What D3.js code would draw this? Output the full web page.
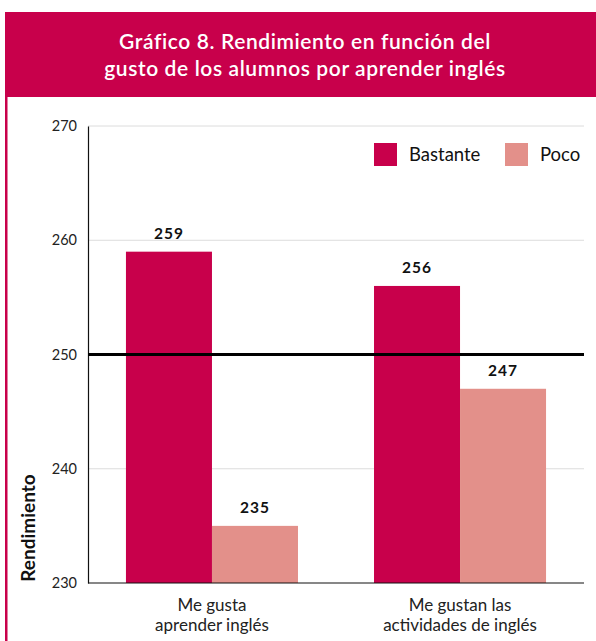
<!DOCTYPE html>
<html>
<head>
<meta charset="utf-8">
<script src="https://cdn.jsdelivr.net/npm/d3@7"></script>
<style>
  body { margin: 0; background: #fff; }
  svg { display: block; font-family: Lato, "Open Sans", sans-serif; }
</style>
</head>
<body>
<div id="chart"></div>
<script>
'use strict';

// data
var categories = ['Me gusta|aprender inglés', 'Me gustan las|actividades de inglés'];
var seriesNames = ['Bastante', 'Poco'];
var bastante = [259, 256];
var poco = [235, 247];
var yTicks = [230, 240, 250, 260, 270];
var refValue = 250;

var colors = { Bastante: '#C8004B', Poco: '#E3908A' };
var W = 596, H = 641;

var svg = d3.select('#chart').append('svg')
  .attr('width', W).attr('height', H);

// header band + left frame line
svg.append('rect').attr('x', 5).attr('y', 12).attr('width', W - 5).attr('height', 85)
  .attr('fill', '#C8004B');
svg.append('rect').attr('x', 5).attr('y', 12).attr('width', 2.5).attr('height', H - 12)
  .attr('fill', '#C8004B');

svg.append('text').attr('x', 305).attr('y', 49).attr('text-anchor', 'middle')
  .attr('fill', '#fff').style('font-size', '21px').style('font-weight', 600)
  .style('letter-spacing', '0.6px')
  .text('Gráfico 8. Rendimiento en función del');
svg.append('text').attr('x', 305).attr('y', 76).attr('text-anchor', 'middle')
  .attr('fill', '#fff').style('font-size', '21px').style('font-weight', 600)
  .style('letter-spacing', '0.6px')
  .text('gusto de los alumnos por aprender inglés');

var margin = { left: 88, right: 12, top: 126, bottom: 58 };
var x0 = d3.scaleBand().domain(categories)
  .range([margin.left, W - margin.right])
  .paddingInner(0.3065).paddingOuter(0.153);
var x1 = d3.scaleBand().domain(seriesNames).range([0, x0.bandwidth()]);
var y = d3.scaleLinear().domain([230, 270]).range([H - margin.bottom, margin.top]);

// gridlines
svg.append('g').selectAll('line').data(yTicks.filter(function(d){ return d !== 230; }))
  .enter().append('line')
  .attr('x1', margin.left).attr('x2', W - margin.right)
  .attr('y1', function(d){ return y(d); }).attr('y2', function(d){ return y(d); })
  .attr('stroke', '#dcdcdc').attr('stroke-width', 1);

// y axis
var yAxis = svg.append('g').attr('transform', 'translate(' + margin.left + ',0)')
  .call(d3.axisLeft(y).tickValues(yTicks).tickSize(0).tickPadding(11));
yAxis.select('.domain').attr('stroke', '#111').attr('stroke-width', 1.2);
yAxis.selectAll('text').attr('fill', '#222')
  .style('font-family', 'Lato, sans-serif').style('font-size', '14.5px');

// bars
var rows = categories.map(function(c, i){
  return { cat: c, values: [
    { key: 'Bastante', value: bastante[i] },
    { key: 'Poco', value: poco[i] }
  ] };
});

var groups = svg.append('g').selectAll('g').data(rows).enter().append('g')
  .attr('transform', function(d){ return 'translate(' + x0(d.cat) + ',0)'; });

groups.selectAll('rect').data(function(d){ return d.values; }).enter().append('rect')
  .attr('x', function(d){ return x1(d.key); })
  .attr('width', x1.bandwidth())
  .attr('y', function(d){ return y(d.value); })
  .attr('height', function(d){ return y(230) - y(d.value); })
  .attr('fill', function(d){ return colors[d.key]; });

groups.selectAll('text.val').data(function(d){ return d.values; }).enter().append('text')
  .attr('class', 'val')
  .attr('x', function(d){ return x1(d.key) + x1.bandwidth() / 2; })
  .attr('y', function(d){ return y(d.value) - 13; })
  .attr('text-anchor', 'middle')
  .style('font-size', '15.5px').style('font-weight', 700).style('letter-spacing', '1px')
  .attr('fill', '#111')
  .text(function(d){ return d.value; });

// x axis line
svg.append('line').attr('x1', margin.left).attr('x2', W - margin.right)
  .attr('y1', y(230)).attr('y2', y(230)).attr('stroke', '#111').attr('stroke-width', 1.2);

// reference line at 250
svg.append('line').attr('x1', margin.left).attr('x2', W - margin.right)
  .attr('y1', y(refValue)).attr('y2', y(refValue))
  .attr('stroke', '#000').attr('stroke-width', 3);

// category labels
svg.append('g').selectAll('text').data(categories).enter().append('text')
  .attr('text-anchor', 'middle')
  .attr('x', function(d){ return x0(d) + x0.bandwidth() / 2; })
  .attr('y', 611)
  .style('font-size', '17px').attr('fill', '#222')
  .each(function(d){
    var t = d3.select(this);
    d.split('|').forEach(function(line, i){
      t.append('tspan').attr('x', t.attr('x')).attr('dy', i ? 20 : 0).text(line);
    });
  });

// y label
svg.append('text')
  .attr('transform', 'translate(35,528) rotate(-90)')
  .attr('text-anchor', 'middle')
  .style('font-size', '19px').style('font-weight', 700).attr('fill', '#111')
  .text('Rendimiento');

// legend
var legendX = [374, 505];
var legend = svg.append('g').selectAll('g').data(seriesNames).enter().append('g')
  .attr('transform', function(d, i){ return 'translate(' + legendX[i] + ',143)'; });
legend.append('rect').attr('width', 23).attr('height', 23)
  .attr('fill', function(d){ return colors[d]; });
legend.append('text').attr('x', 35).attr('y', 17.5)
  .style('font-size', '18.5px').attr('fill', '#111')
  .text(function(d){ return d; });
</script>
</body>
</html>
